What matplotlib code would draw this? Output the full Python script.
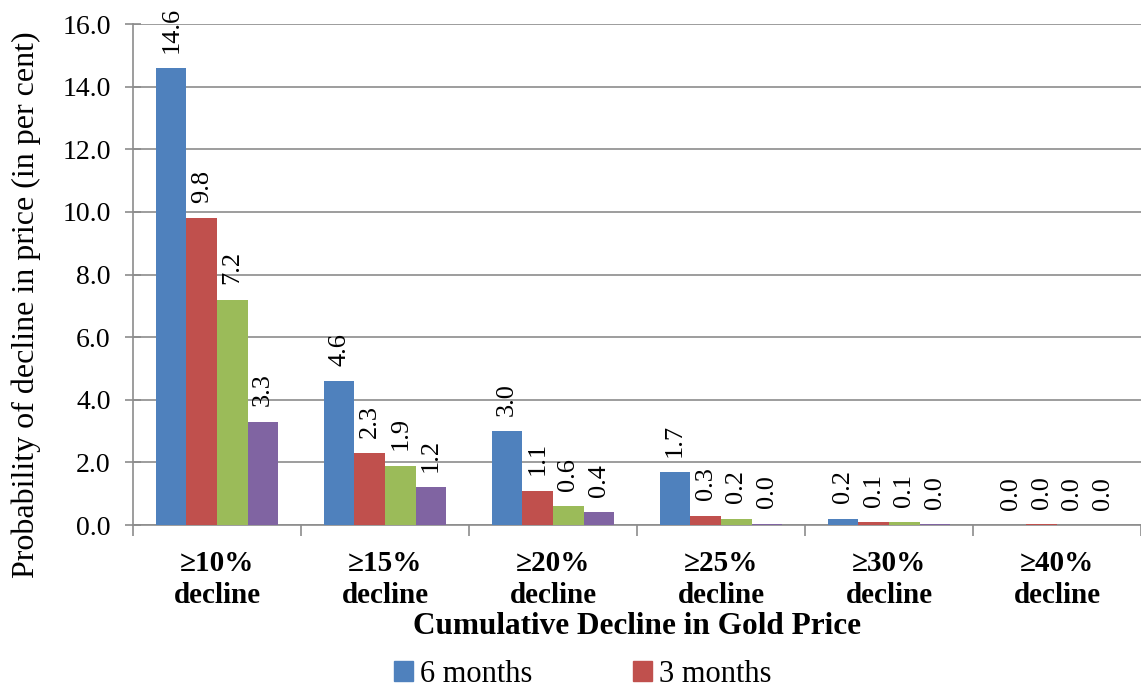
import numpy as np
import matplotlib
matplotlib.use('Agg')
import matplotlib.pyplot as plt
from matplotlib.patches import Patch

# data
categories = ['\u226510%\ndecline', '\u226515%\ndecline', '\u226520%\ndecline',
              '\u226525%\ndecline', '\u226530%\ndecline', '\u226540%\ndecline']
six_months   = [14.6, 4.6, 3.0, 1.7, 0.2, 0.0]
three_months = [9.8, 2.3, 1.1, 0.3, 0.1, 0.02]
one_month    = [7.2, 1.9, 0.6, 0.2, 0.1, 0.0]
two_weeks    = [3.3, 1.2, 0.4, 0.04, 0.02, 0.0]
series_names = ['6 months', '3 months', '1 month', '2 weeks']
colors = ['#4F81BD', '#C0504D', '#9BBB59', '#8064A2']

plt.rcParams['font.family'] = ['Liberation Serif', 'DejaVu Serif']

fig = plt.figure(figsize=(11.41, 6.88), dpi=100)
ax = fig.add_axes([0.1166, 0.2369, 0.8834, 0.7282])

x = np.arange(len(categories))
w = 0.182
series = [six_months, three_months, one_month, two_weeks]
for i, (vals, c) in enumerate(zip(series, colors)):
    pos = x + (i - 1.5) * w
    bars = ax.bar(pos, vals, w, color=c, zorder=3)
    for b, v in zip(bars, vals):
        ax.annotate(f'{v:.1f}', (b.get_x() + b.get_width() / 2, b.get_height()),
                    xytext=(0, 11), textcoords='offset points',
                    rotation=90, ha='center', va='bottom', fontsize=19)

ax.set_xlim(-0.5, len(categories) - 0.5)
ax.set_ylim(0, 16)
ax.set_yticks(np.arange(0, 16.1, 2))
ax.set_yticklabels([f'{v:.1f}' for v in np.arange(0, 16.1, 2)], fontsize=20)
ax.yaxis.grid(True, color='#8c8c8c', linewidth=1.2, zorder=0)

# category boundary ticks, labels at centers
ax.set_xticks(np.arange(-0.5, len(categories), 1))
ax.set_xticklabels([])
ax.set_xticks(x, minor=True)
ax.set_xticklabels(categories, minor=True, fontsize=21, fontweight='bold',
                   linespacing=1.25)
ax.tick_params(axis='x', which='minor', length=0, pad=18)
ax.tick_params(axis='x', which='major', length=8, color='#8c8c8c', width=1.2)
ax.tick_params(axis='y', length=12, direction='inout', color='#8c8c8c',
               width=1.2, pad=10)

for s in ['top', 'right']:
    ax.spines[s].set_visible(False)
for s in ['left', 'bottom']:
    ax.spines[s].set_color('#8c8c8c')
    ax.spines[s].set_linewidth(1.2)

ax.set_ylabel('Probability of decline in price (in per cent)', fontsize=23)
ax.yaxis.set_label_coords(-0.091, 0.44)
ax.set_xlabel('Cumulative Decline in Gold Price', fontsize=22.5, fontweight='bold',
              labelpad=2)

handles = [Patch(color=colors[0]), Patch(color=colors[1])]
fig.legend(handles, series_names[:2], loc='center', bbox_to_anchor=(0.511, 0.02),
           ncol=2, frameon=False, fontsize=22, handlelength=0.6, handleheight=0.6,
           handletextpad=0.25, columnspacing=3.3)

fig.savefig('out.png', dpi=100)
